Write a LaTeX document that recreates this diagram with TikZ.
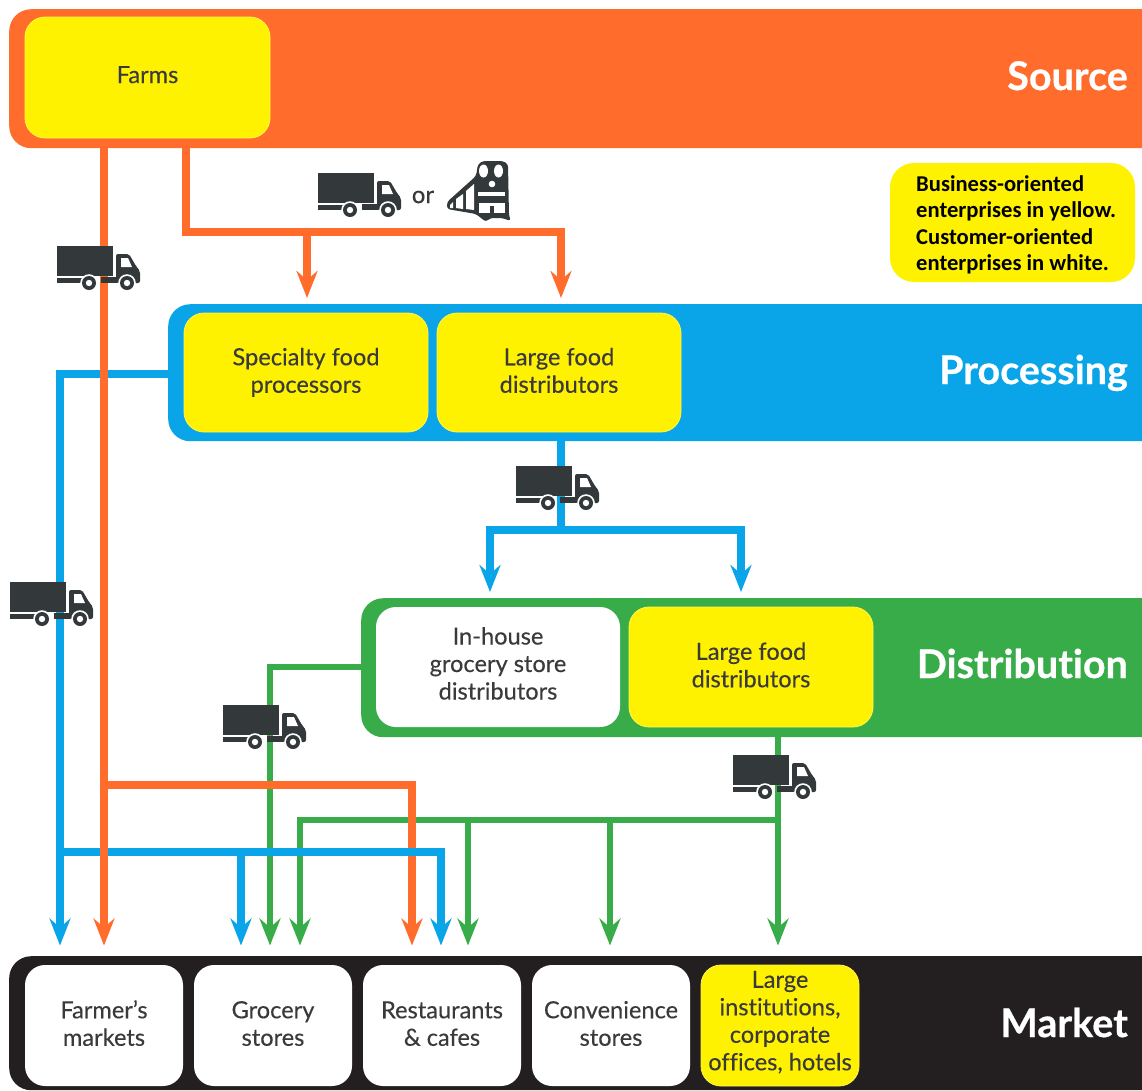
\documentclass[tikz,border=0pt]{standalone}
\usepackage{fontspec}
\setmainfont{Lato}[Ligatures=NoCommon]
\newfontfamily\boxfont{Lato}[Ligatures=NoCommon, FakeBold=0.25]
\newfontfamily\titlefont{Lato}[Ligatures=NoCommon, BoldFeatures={FakeBold=0.6}]
\newfontfamily\legendfont{Carlito}
\usepackage{tikz}
\usetikzlibrary{arrows.meta}
\definecolor{srcOrange}{HTML}{FF6C2C}
\definecolor{procBlue}{HTML}{0AA5E8}
\definecolor{distGreen}{HTML}{39AC4A}
\definecolor{mktBlack}{HTML}{231F20}
\definecolor{boxYellow}{HTML}{FFF200}
\definecolor{iconGrey}{HTML}{33383B}
\definecolor{labelGrey}{HTML}{3A3A3C}
\tikzset{
	band/.style={rounded corners=22pt, inner sep=0pt, anchor=north west, minimum width=1250pt},
	foodbox/.style={rounded corners=20pt, inner sep=0pt, align=center, text=labelGrey, font=\boxfont\fontsize{23.6}{27.5}\selectfont},
	yellowbox/.style={foodbox, fill=boxYellow, draw=boxYellow!70!white, line width=0.8pt},
	whitebox/.style={foodbox, fill=white},
	bandtitle/.style={anchor=base east, text=white, inner sep=0pt, font=\titlefont\fontsize{39.5}{44}\selectfont\bfseries},
	link/.style={line width=8pt, shorten >=10.5pt, -{Stealth[length=27pt, width=21pt, inset=9pt]}},
	trunk/.style={line width=8pt},
	greenlink/.style={link, line width=6.8pt, distGreen}
}
\newcommand{\boxText}[2][-1pt]{\raisebox{#1}[\height][\depth]{\begin{tabular}{@{}c@{}}#2\end{tabular}}}
\newcommand{\drawTruck}[1]{
	\begin{scope}[shift={(#1)}]
		\fill[iconGrey] (0,0) rectangle (56,30);
		\fill[iconGrey] (0,32) rectangle (26,37);
		\fill[iconGrey] (44,31) rectangle (60,37);
		\fill[iconGrey, rounded corners=2pt] (59,37) -- (59,8) -- (72,8) -- (79,20) -- (83,25) -- (83,37) -- cycle;
		\fill[white] (64,12) -- (71,12) -- (75,21) -- (64,21) -- cycle;
		\foreach \wx in {32,70} {
			\fill[white] (\wx,37) circle (8.8);
			\fill[iconGrey] (\wx,37) circle (7);
			\fill[white] (\wx,37) circle (3.2);
		}
	\end{scope}
}
\begin{document}
\begin{tikzpicture}[x=1pt, y=-1pt]
	\useasboundingbox (0,0) rectangle (1142,1090);

	% bands
	\node[band, fill=srcOrange, minimum height=139pt] (source) at (9,9) {};
	\node[band, fill=procBlue, minimum height=137pt] (processing) at (168,304) {};
	\node[band, fill=distGreen, minimum height=139pt] (distribution) at (361,598) {};
	\node[band, fill=mktBlack, minimum height=134pt] (market) at (9,956) {};

	\node[bandtitle] (sourceT) at (1128,90) {Source};
	\node[bandtitle] (processingT) at (1128,384) {Processing};
	\node[bandtitle] (distributionT) at (1128,678) {Distribution};
	\node[bandtitle] (marketT) at (1128,1037) {Market};

	% boxes
	\node[yellowbox, minimum width=245pt, minimum height=121pt] (farms) at (147.5,77.5) {\boxText[0pt]{Farms}};
	\node[yellowbox, minimum width=244pt, minimum height=119pt] (specialty) at (306,372.5) {\boxText{Specialty food\\processors}};
	\node[yellowbox, minimum width=244pt, minimum height=119pt] (largeP) at (559,372.5) {\boxText{Large food\\distributors}};
	\node[whitebox, minimum width=244pt, minimum height=120pt] (inhouse) at (498,667) {\boxText[0.5pt]{In-house\\grocery store\\distributors}};
	\node[yellowbox, minimum width=244pt, minimum height=120pt] (largeD) at (751,667) {\boxText{Large food\\distributors}};
	\node[whitebox, minimum width=158pt, minimum height=121pt] (farmers) at (104,1025.5) {\boxText{Farmer’s\\markets}};
	\node[whitebox, minimum width=158pt, minimum height=121pt] (grocery) at (273,1025.5) {\boxText{Grocery\\stores}};
	\node[whitebox, minimum width=158pt, minimum height=121pt] (restaurants) at (442,1025.5) {\boxText{Restaurants\\\& cafes}};
	\node[whitebox, minimum width=158pt, minimum height=121pt] (convenience) at (611,1025.5) {\boxText{Convenience\\stores}};
	\node[yellowbox, minimum width=158pt, minimum height=121pt] (institutions) at (780,1025.5) {\boxText[2pt]{Large\\institutions,\\corporate\\offices, hotels}};

	% legend
	\node[rounded corners=24pt, fill=boxYellow, minimum width=245pt, minimum height=119pt, inner sep=0pt] (legend) at (1012.5,222.5) {};
	\node[anchor=west, align=left, inner sep=0pt, font=\legendfont\bfseries\fontsize{22.6}{26.4}\selectfont] (legendT) at (916,225) {Business-oriented\\enterprises in yellow.\\Customer-oriented\\enterprises in white.};

	% junctions
	\coordinate (O1) at (186,232);
	\coordinate (O2) at (307,232);
	\coordinate (O3) at (561,232);
	\coordinate (O4) at (104,785);
	\coordinate (O5) at (412,785);
	\coordinate (B1) at (60,374);
	\coordinate (B2) at (60,852);
	\coordinate (B3) at (241,852);
	\coordinate (B4) at (441,852);
	\coordinate (B5) at (561,530);
	\coordinate (B6) at (490,530);
	\coordinate (B7) at (741,530);
	\coordinate (G1) at (270,667);
	\coordinate (G2) at (778,820);
	\coordinate (G3) at (300,820);
	\coordinate (G4) at (468,820);
	\coordinate (G5) at (610,820);

	% green links
	\draw[greenlink] (inhouse.west -| distribution.west) -- (G1) -- (G1 |- market.north);
	\draw[greenlink] (G2 |- distribution.south) -- (G2 |- market.north);
	\draw[greenlink] (G2) -- (G3) -- (G3 |- market.north);
	\draw[greenlink] (G4) -- (G4 |- market.north);
	\draw[greenlink] (G5) -- (G5 |- market.north);

	% orange links
	\draw[link, srcOrange] (O4) -- (O5) -- (O5 |- market.north);
	\draw[link, srcOrange, shorten >=6pt] (O1 |- source.south) -- (O1) -- (O3) -- (O3 |- processing.north);
	\draw[link, srcOrange, shorten >=6pt] (O2) -- (O2 |- processing.north);

	% blue links
	\draw[link, procBlue] (B1 -| processing.west) -- (B1) -- (B1 |- market.north);
	\draw[link, procBlue] (B2) -- (B4) -- (B4 |- market.north);
	\draw[link, procBlue] (B3) -- (B3 |- market.north);
	\draw[trunk, procBlue] (B5 |- processing.south) -- (B5);
	\draw[link, procBlue, shorten >=6pt] (B5) -- (B6) -- (B6 |- distribution.north);
	\draw[link, procBlue, shorten >=6pt] (B5) -- (B7) -- (B7 |- distribution.north);

	% orange runs over the blue here
	\draw[link, srcOrange] (O4 |- source.south) -- (O4 |- market.north);

	% trucks
	\drawTruck{318,173}
	\drawTruck{57,246}
	\drawTruck{516,466}
	\drawTruck{10,582}
	\drawTruck{223,705}
	\drawTruck{733,755}

	\node[text=labelGrey, inner sep=0pt, font=\boxfont\fontsize{24}{28}\selectfont] (orT) at (423,197) {or};

	% train
	\fill[iconGrey, rounded corners=3pt] (476,176) -- (478,164) -- (483,161) -- (503,161) -- (508,164) -- (509,216) -- (511,221) -- (502,218) -- (490,218) -- (486,222) -- (476,214) -- (447,209) -- (447,202) -- cycle;
	\fill[white] (483.5,171) ellipse (4.5 and 6.5);
	\fill[white] (498.5,171) ellipse (4.5 and 6.5);
	\fill[white] (492,184) circle (3.3);
	\fill[white] (478,192) rectangle (505,196);
	\fill[white] (479,203) rectangle (505,213);
	\fill[iconGrey] (490,206) rectangle (494,214);
	\fill[white] (474,184) -- (466,191) -- (466,209) -- (474,210) -- cycle;
	\fill[white] (463,194) -- (456,199) -- (456,208) -- (463,209) -- cycle;
	\fill[white] (453,202) -- (450,205) -- (450,208) -- (453,208) -- cycle;
\end{tikzpicture}
\end{document}
